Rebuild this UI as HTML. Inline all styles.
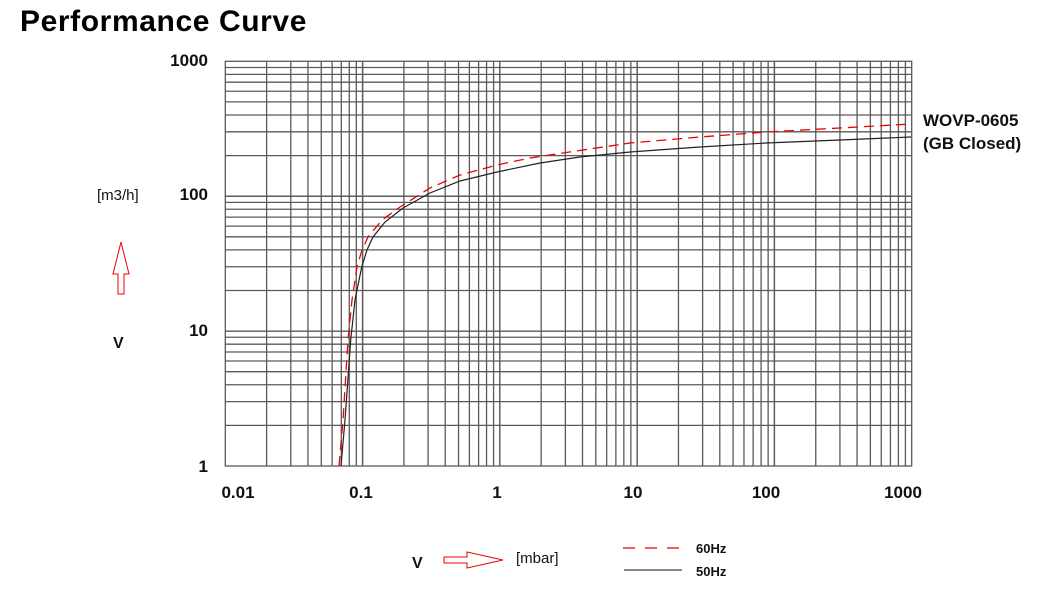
<!DOCTYPE html>
<html><head><meta charset="utf-8"><style>
body{margin:0;background:#fff;width:1052px;height:586px;overflow:hidden;font-family:"Liberation Sans",Arial,sans-serif}
</style></head><body>
<svg width="1052" height="586" viewBox="0 0 1052 586" xmlns="http://www.w3.org/2000/svg" font-family="Liberation Sans, Arial, sans-serif">
<text x="20" y="31" font-size="30" font-weight="bold" fill="#000" letter-spacing="0.6">Performance Curve</text>
<g id="grid" stroke="#5a5a5a" stroke-width="1.3" fill="none"></g>
<g font-size="17" font-weight="bold" fill="#111" text-anchor="end">
<text x="208" y="66">1000</text><text x="208" y="200">100</text><text x="208" y="336">10</text><text x="208" y="472">1</text>
</g>
<g font-size="17" font-weight="bold" fill="#111" text-anchor="middle">
<text x="238" y="498">0.01</text><text x="361" y="498">0.1</text><text x="497" y="498">1</text><text x="633" y="498">10</text><text x="766" y="498">100</text><text x="903" y="498">1000</text>
</g>
<text x="923" y="126" font-size="17" font-weight="bold" fill="#111">WOVP-0605</text>
<text x="923" y="149" font-size="17" font-weight="bold" fill="#111">(GB Closed)</text>
<text x="97" y="200" font-size="15" fill="#111">[m3/h]</text>
<text x="113" y="348" font-size="16" font-weight="bold" fill="#111">V</text>
<polygon points="121,242 129,274 124,274 124,294 118,294 118,274 113,274" fill="#fff" stroke="#e00" stroke-width="1"/>
<text x="412" y="568" font-size="16" font-weight="bold" fill="#111">V</text>
<polygon points="444,557 467,557 467,552 503,560 467,568 467,563 444,563" fill="#fff" stroke="#e00" stroke-width="1"/>
<text x="516" y="563" font-size="15" fill="#111">[mbar]</text>
<line x1="623" y1="548" x2="682" y2="548" stroke="#e00" stroke-width="1.3" stroke-dasharray="12,10"/>
<line x1="624" y1="570" x2="682" y2="570" stroke="#111" stroke-width="1"/>
<text x="696" y="553" font-size="13" font-weight="bold" fill="#111">60Hz</text>
<text x="696" y="576" font-size="13" font-weight="bold" fill="#111">50Hz</text>
<path d="M341,466 L345,420 L350.7,340 L355,300 L361.7,267 L367,250 L373,237 L385,222 L403,208 L430,193 L460,181 L497,172 L540,163 L580,157 L630,152 L700,147 L766,143 L840,140 L911,137" fill="none" stroke="#222" stroke-width="1.2"/>
<path d="M339,466 L343,420 L348,340 L352,300 L357,267 L362,250 L368,237 L382,220 L400,207 L430,188 L460,175 L497,165 L530,158 L563,153 L630,143 L700,137 L766,132 L840,128 L911,124" fill="none" stroke="#e00" stroke-width="1.3" stroke-dasharray="10,6"/>
</svg>
<script>
var g=document.getElementById('grid'),s='';
var L=225.3,R=911.7,T=61.3,B=466,dx=(R-L)/5,dy=(B-T)/3;
s+='<rect x="'+L+'" y="'+T+'" width="'+(R-L)+'" height="'+(B-T)+'"/>';
for(var d=0;d<5;d++)for(var k=1;k<=10;k++){var x=L+dx*(d+Math.log10(k));if(x>L+0.5&&x<R-0.5)s+='<line x1="'+x+'" y1="'+T+'" x2="'+x+'" y2="'+B+'"/>';}
for(var d=0;d<3;d++)for(var k=1;k<=10;k++){var y=B-dy*(d+Math.log10(k));if(y>T+0.5&&y<B-0.5)s+='<line x1="'+L+'" y1="'+y+'" x2="'+R+'" y2="'+y+'"/>';}
g.innerHTML=s;
</script>
</body></html>
